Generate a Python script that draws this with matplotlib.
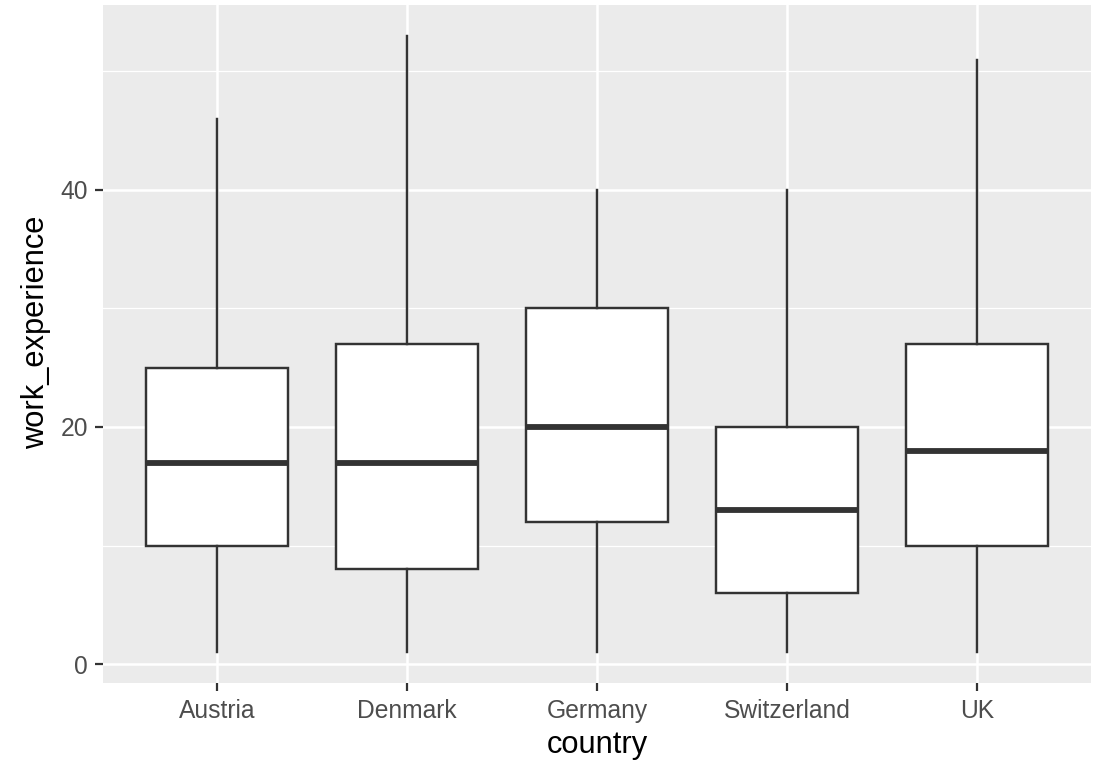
import matplotlib
matplotlib.use("Agg")
import matplotlib.pyplot as plt
from matplotlib.ticker import FixedLocator

countries = ["Austria", "Denmark", "Germany", "Switzerland", "UK"]
whisker_low = [1, 1, 1, 1, 1]
q1 = [10, 8, 12, 6, 10]
median = [17, 17, 20, 13, 18]
q3 = [25, 27, 30, 20, 27]
whisker_high = [46, 53, 40, 40, 51]
y_ticks = [0, 20, 40]
y_minor = [10, 30, 50]

plt.rcParams['font.family'] = ['Liberation Sans', 'DejaVu Sans']

W, H = 1094, 763
fig = plt.figure(figsize=(W / 100, H / 100), dpi=100)
pl, pr, pt, pb = 103, 1091, 5, 683
ax = fig.add_axes([pl / W, 1 - pb / H, (pr - pl) / W, (pb - pt) / H])
ax.set_facecolor('#EBEBEB')

stats = []
for i, c in enumerate(countries):
    stats.append(dict(label=c, whislo=whisker_low[i], q1=q1[i], med=median[i],
                      q3=q3[i], whishi=whisker_high[i], fliers=[]))

pos = list(range(1, len(countries) + 1))
lc = '#333333'
ax.bxp(stats, positions=pos, widths=0.75, patch_artist=True, showcaps=False,
       boxprops=dict(facecolor='white', edgecolor=lc, linewidth=1.75),
       whiskerprops=dict(color=lc, linewidth=1.75),
       medianprops=dict(color=lc, linewidth=4.2, solid_capstyle='butt'),
       zorder=3)

ymin, ymax = min(whisker_low), max(whisker_high)
ext = (ymax - ymin) * 0.05
ax.set_ylim(ymin - ext, ymax + ext)
ax.set_xlim(0.4, len(countries) + 0.6)

ax.yaxis.set_major_locator(FixedLocator(y_ticks))
ax.yaxis.set_minor_locator(FixedLocator(y_minor))
ax.set_xticks(pos)
ax.set_xticklabels(countries)

ax.grid(which='major', color='white', linewidth=1.8, zorder=0)
ax.grid(which='minor', axis='y', color='white', linewidth=0.9, zorder=0)
ax.set_axisbelow(True)
for s in ax.spines.values():
    s.set_visible(False)

ax.tick_params(which='major', length=5.8, width=1.6, color=lc,
               labelsize=17.7, labelcolor='#4D4D4D')
ax.tick_params(axis='x', pad=5.5)
ax.tick_params(axis='y', pad=5)
ax.tick_params(which='minor', length=0)

fig.text(597 / W, 1 - 753 / H, 'country', ha='center', va='baseline',
         fontsize=22.2, color='black')
fig.text(36 / W, 1 - 332 / H, 'work_experience', ha='center', va='center',
         rotation=90, fontsize=22.2, color='black')

fig.savefig('out.png', dpi=100)
